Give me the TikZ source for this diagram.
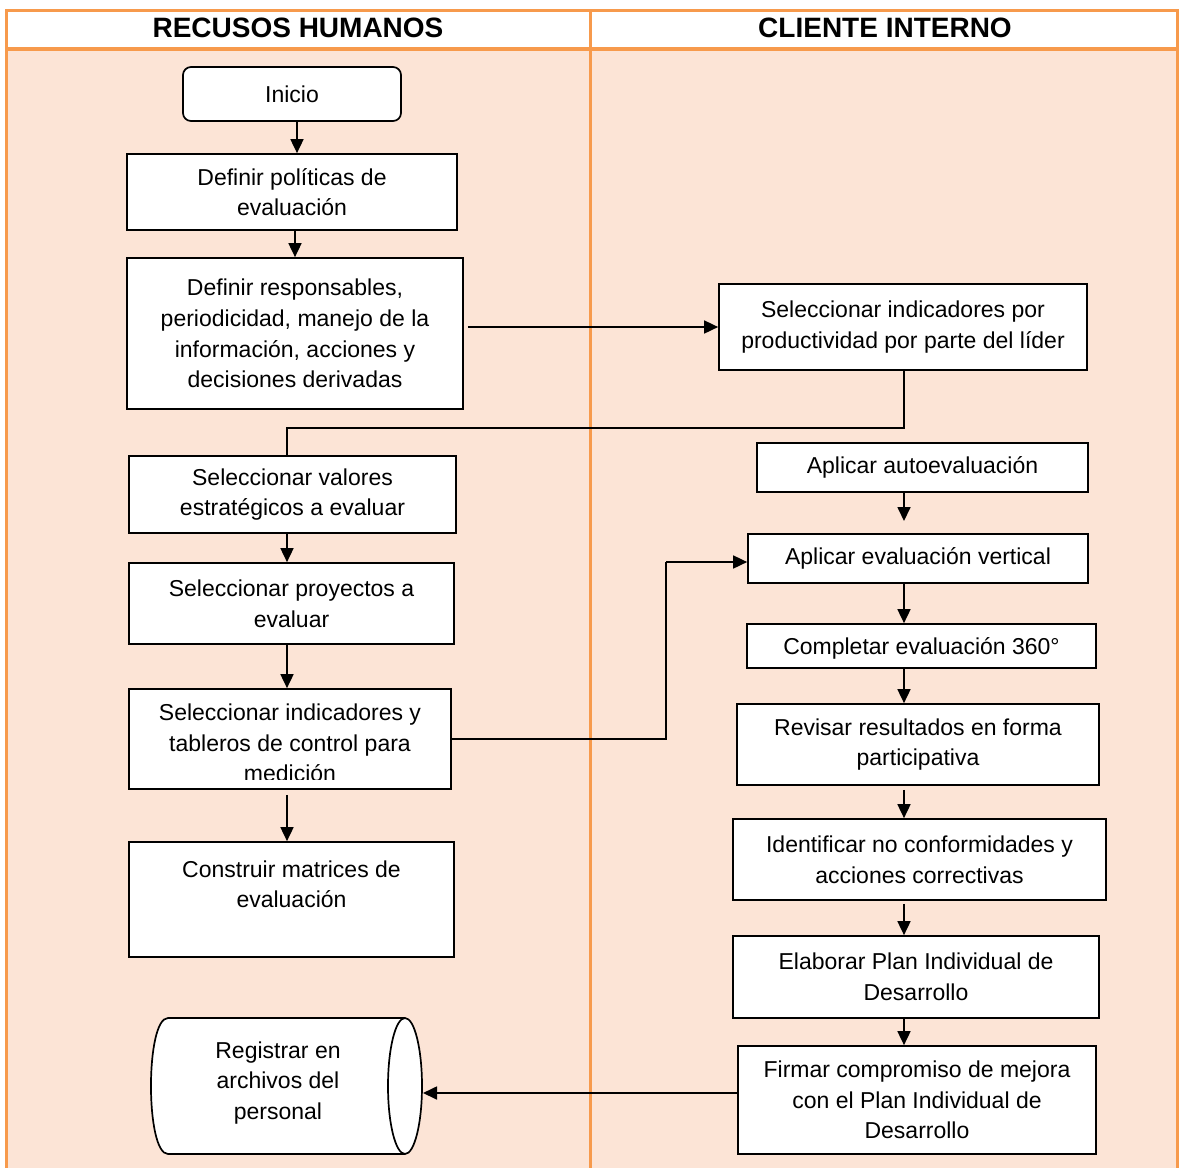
\documentclass[tikz,border=0pt]{standalone}
\usepackage{fontspec}
\setmainfont{Liberation Sans}
\usetikzlibrary{arrows.meta,calc}
\definecolor{lanefill}{HTML}{FCE4D6}
\definecolor{laneline}{HTML}{F79A4C}
\begin{document}
\begin{tikzpicture}[x=1pt,y=-1pt,
  lanerule/.style={draw=laneline,line width=3pt},
  txt/.style={font=\fontsize{23}{30.7}\selectfont,align=center,inner sep=0pt},
  procbox/.style={draw=black,fill=white,line width=1.7pt,inner sep=0pt,txt},
  termbox/.style={procbox,rounded corners=8pt},
  flow/.style={line width=1.7pt,-{Triangle[length=14pt,width=13pt]}},
  plain/.style={line width=1.7pt},
  hdr/.style={font=\bfseries\fontsize{28}{30}\selectfont,inner sep=0pt}]
\useasboundingbox (0,0) rectangle (1179,1168);

% swimlane frame
\fill[lanefill] (6,49) rectangle (1177,1172);
\fill[white] (6,10) rectangle (1177,49);
\draw[lanerule] (6,1172) -- (6,10) -- (1177,10) -- (1177,1172);
\draw[lanerule,line width=3.5pt] (6,49) -- (1177,49);
\draw[lanerule] (590,10) -- (590,1172);
\node[hdr] (hrh) at (298,28) {RECUSOS HUMANOS};
\node[hdr] (hci) at (885,28) {CLIENTE INTERNO};

% left lane
\node[termbox,minimum width=218pt,minimum height=54pt] (inicio) at (292,94) {Inicio};
\node[procbox,minimum width=330pt,minimum height=76pt] (politicas) at (292,192) {Definir políticas de\\evaluación};
\node[procbox,minimum width=336pt,minimum height=151pt] (resp) at (295,333.5) {\raisebox{4pt}{\parbox{330pt}{\centering Definir responsables,\\periodicidad, manejo de la\\información, acciones y\\decisiones derivadas}}};
\node[procbox,minimum width=327pt,minimum height=77pt] (valores) at (292.5,494.5) {\raisebox{-3pt}{\parbox{320pt}{\centering Seleccionar valores\\estratégicos a evaluar}}};
\node[procbox,minimum width=325pt,minimum height=81pt] (proyectos) at (291.5,603.5) {Seleccionar proyectos a\\evaluar};
\node[procbox,minimum width=322pt,minimum height=100pt] (tableros) at (290,739) {};
\begin{scope}
  \clip (tableros.north west) rectangle ([yshift=10pt]tableros.south east);
  \node[txt] (tablerostxt) at (290,743) {Seleccionar indicadores y\\tableros de control para\\medición};
\end{scope}
\node[procbox,minimum width=325pt,minimum height=115pt] (matrices) at (291.5,899.5) {Construir matrices de\\evaluación\\\mbox{}};

% storage cylinder
\filldraw[fill=white,line width=1.7pt] (405,1018) -- (168,1018)
  .. controls (145.3,1018) and (145.3,1154) .. (168,1154) -- (405,1154);
\filldraw[fill=white,line width=1.7pt] (405,1086) ellipse [x radius=17pt,y radius=68pt];
\node[txt] (registrar) at (278,1083) {Registrar en\\archivos del\\personal};
\coordinate (regin) at (423,1093);

% right lane
\node[procbox,minimum width=368pt,minimum height=86pt] (selprod) at (903,327) {Seleccionar indicadores por\\productividad por parte del líder};
\node[procbox,minimum width=331pt,minimum height=49pt] (auto) at (922.5,467.5) {Aplicar autoevaluación};
\node[procbox,minimum width=340pt,minimum height=49pt] (vertical) at (918,558.5) {Aplicar evaluación vertical};
\node[procbox,minimum width=349pt,minimum height=44pt] (completar) at (921.5,646) {};
\begin{scope}
  \clip (completar.north west) rectangle ([yshift=9pt]completar.south east);
  \node[txt] (completartxt) at (921.5,648) {Completar evaluación 360°};
\end{scope}
\node[procbox,minimum width=362pt,minimum height=81pt] (revisar) at (918,744.5) {Revisar resultados en forma\\participativa};
\node[procbox,minimum width=373pt,minimum height=81pt] (identificar) at (919.5,859.5) {Identificar no conformidades y\\acciones correctivas};
\node[procbox,minimum width=366pt,minimum height=82pt] (elaborar) at (916,977) {Elaborar Plan Individual de\\Desarrollo};
\node[procbox,minimum width=358pt,minimum height=108pt] (firmar) at (917,1100) {Firmar compromiso de mejora\\con el Plan Individual de\\Desarrollo};

% connector columns
\coordinate (colL) at (287,0);
\coordinate (colR) at (904,0);
\coordinate (colM) at (666,0);
\coordinate (autoend) at (904,521);

% left lane connectors
\draw[flow] ([xshift=5pt]inicio.south) -- ([xshift=5pt]inicio.south |- politicas.north);
\draw[flow] ([xshift=3pt]politicas.south) -- ([xshift=3pt]politicas.south |- resp.north);
\draw[flow] ([xshift=4pt]resp.east |- selprod.west) -- (selprod.west);
\draw[plain] (colR |- selprod.south) -- (colR |- 0,428) -| (valores.north -| colL);
\draw[flow] (colL |- valores.south) -- (colL |- proyectos.north);
\draw[flow] (colL |- proyectos.south) -- (colL |- tableros.north);
\draw[flow] ([yshift=-5pt]colL |- tableros.south) -- (colL |- matrices.north);
\draw[plain] (tableros.east) -| (colM |- 0,562);
\draw[flow] (colM |- 0,562) -- (vertical.west |- 0,562);

% right lane connectors
\draw[flow] (colR |- auto.south) -- (autoend);
\draw[flow] (colR |- vertical.south) -- (colR |- completar.north);
\draw[flow] (colR |- completar.south) -- (colR |- revisar.north);
\draw[flow] ([yshift=-4pt]colR |- revisar.south) -- (colR |- identificar.north);
\draw[flow] ([yshift=-3pt]colR |- identificar.south) -- (colR |- elaborar.north);
\draw[flow] (colR |- elaborar.south) -- (colR |- firmar.north);
\draw[flow] (firmar.west |- regin) -- (regin);
\end{tikzpicture}
\end{document}
